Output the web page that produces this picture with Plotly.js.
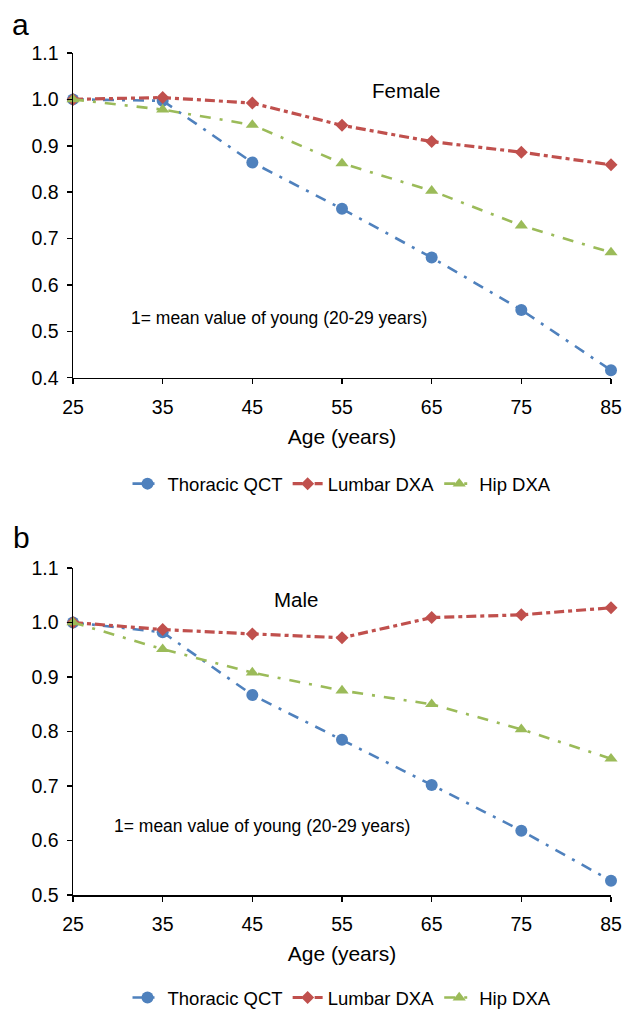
<!DOCTYPE html>
<html>
<head>
<meta charset="utf-8">
<script src="https://cdn.plot.ly/plotly-3.0.1.min.js"></script>
<style>html,body{margin:0;padding:0;background:#fff;}#chart{width:635px;height:1011px;}</style>
</head>
<body>
<div id="chart"></div>
<script>
// ---- Data ----
const ages = [25, 35, 45, 55, 65, 75, 85];
const seriesNames = ["Thoracic QCT", "Lumbar DXA", "Hip DXA"];

const femaleThoracicQCT = [1.000, 0.997, 0.864, 0.764, 0.659, 0.546, 0.416];
const femaleLumbarDXA   = [1.000, 1.004, 0.992, 0.944, 0.909, 0.886, 0.859];
const femaleHipDXA      = [1.000, 0.978, 0.945, 0.862, 0.803, 0.728, 0.670];

const maleThoracicQCT = [1.000, 0.982, 0.867, 0.785, 0.702, 0.618, 0.526];
const maleLumbarDXA   = [1.000, 0.987, 0.979, 0.972, 1.009, 1.014, 1.027];
const maleHipDXA      = [1.000, 0.951, 0.908, 0.875, 0.850, 0.804, 0.750];

const xTickVals = [25, 35, 45, 55, 65, 75, 85];

// ---- Styles ----
const FONT = "Liberation Sans, Arial, Helvetica, sans-serif";
const colors = ["#4F81BD", "#C0504D", "#9BBB59"];
const symbols = ["circle", "diamond", "triangle-up"];
const sizes = [12, 10, 11.5];
const widths = [2.6, 3.2, 2.6];
const dashes = ["11px,8px,3px,8px", "10px,4px,4px,4px", "11px,9px,3px,9px"];

function makeTraces(valuesList, xaxis, yaxis, legend) {
  return valuesList.map((vals, i) => ({
    x: ages, y: vals, name: seriesNames[i],
    type: "scatter", mode: "lines+markers",
    xaxis: xaxis, yaxis: yaxis, legend: legend,
    cliponaxis: false,
    line: {color: colors[i], width: widths[i], dash: dashes[i]},
    marker: {color: colors[i], symbol: symbols[i], size: sizes[i]}
  }));
}

const traces = [
  ...makeTraces([femaleThoracicQCT, femaleLumbarDXA, femaleHipDXA], "x", "y", "legend"),
  ...makeTraces([maleThoracicQCT, maleLumbarDXA, maleHipDXA], "x2", "y2", "legend2")
];

const xBase = {
  range: [25, 85], tickvals: xTickVals, ticks: "outside", ticklen: 5, tickwidth: 1.5,
  tickcolor: "#000", showline: true, linecolor: "#000", linewidth: 1.5,
  showgrid: false, zeroline: false, ticklabelstandoff: 6,
  tickfont: {family: FONT, size: 19.5, color: "#000"},
  title: {text: "Age (years)", font: {family: FONT, size: 21, color: "#000"}, standoff: 12}
};
const yBase = {
  dtick: 0.1, tickformat: ".1f", ticks: "outside", ticklen: 5, tickwidth: 1.5,
  tickcolor: "#000", showline: true, linecolor: "#000", linewidth: 1.5,
  showgrid: false, zeroline: false, ticklabelstandoff: 4,
  tickfont: {family: FONT, size: 19.5, color: "#000"}
};

const legendBase = {
  orientation: "h", xanchor: "center", yanchor: "middle", x: 0.5,
  font: {family: FONT, size: 18.5, color: "#000"}, itemwidth: 30, bgcolor: "rgba(0,0,0,0)"
};

const noteText = "1= mean value of young (20-29 years)";

const layout = {
  width: 635, height: 1011,
  margin: {l: 73, r: 24, t: 53, b: 116, autoexpand: false},
  paper_bgcolor: "#fff", plot_bgcolor: "#fff",
  font: {family: FONT, color: "#000"},
  showlegend: true,
  xaxis: Object.assign({}, xBase, {anchor: "y"}),
  yaxis: Object.assign({}, yBase, {domain: [0.6144, 1], range: [0.4, 1.1], anchor: "x", tick0: 0.4}),
  xaxis2: Object.assign({}, xBase, {anchor: "y2"}),
  yaxis2: Object.assign({}, yBase, {domain: [0, 0.3884], range: [0.5, 1.1], anchor: "x2", tick0: 0.5}),
  legend: Object.assign({}, legendBase, {y: 0.488}),
  legend2: Object.assign({}, legendBase, {y: -0.1223}),
  annotations: [
    {text: "a", xref: "paper", yref: "paper", x: -0.0967, y: 1.0333, showarrow: false,
     xanchor: "center", yanchor: "middle", font: {family: FONT, size: 30, color: "#000"}},
    {text: "b", xref: "paper", yref: "paper", x: -0.095, y: 0.424, showarrow: false,
     xanchor: "center", yanchor: "middle", font: {family: FONT, size: 30, color: "#000"}},
    {text: "Female", xref: "paper", yref: "paper", x: 0.619, y: 0.956, showarrow: false,
     xanchor: "center", yanchor: "middle", font: {family: FONT, size: 20.5, color: "#000"}},
    {text: "Male", xref: "paper", yref: "paper", x: 0.4145, y: 0.3504, showarrow: false,
     xanchor: "center", yanchor: "middle", font: {family: FONT, size: 20.5, color: "#000"}},
    {text: noteText, xref: "paper", yref: "paper", x: 0.383, y: 0.6853, showarrow: false,
     xanchor: "center", yanchor: "middle", font: {family: FONT, size: 17.5, color: "#000"}},
    {text: noteText, xref: "paper", yref: "paper", x: 0.351, y: 0.0819, showarrow: false,
     xanchor: "center", yanchor: "middle", font: {family: FONT, size: 17.5, color: "#000"}}
  ]
};

Plotly.newPlot("chart", traces, layout, {displayModeBar: false, staticPlot: true});
</script>
</body>
</html>
